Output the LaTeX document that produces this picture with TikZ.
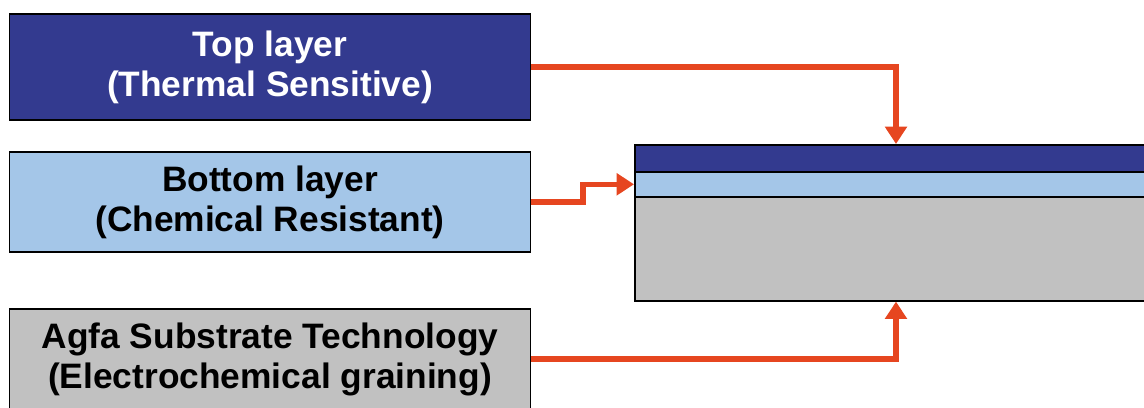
\documentclass[tikz,border=0pt]{standalone}
\usepackage{fontspec}
\setmainfont{Liberation Sans}
\usetikzlibrary{arrows.meta}
\usetikzlibrary{positioning}
\definecolor{darkband}{RGB}{51,58,143}
\definecolor{lightband}{RGB}{164,198,232}
\definecolor{greyband}{RGB}{193,193,193}
\definecolor{arrowred}{RGB}{230,70,32}

\begin{document}
\begin{tikzpicture}[x=0.75pt, y=-0.75pt]
    \tikzstyle{layerbox}=[draw=black, line width=1.2pt, minimum width=521*0.75pt, align=center,
      font=\fontsize{26.5}{30}\selectfont\bfseries, inner sep=0pt];
    \tikzstyle{band}=[draw=black, line width=1.2pt, minimum width=512*0.75pt, anchor=north west, inner sep=0pt];
    \tikzstyle{conn}=[arrowred, line width=3.8pt, -{Triangle[width=16pt, length=13pt]}];
    \clip (0,0) rectangle (1144,407);
    % the three layers
    \node[layerbox, fill=darkband, text=white, minimum height=106*0.75pt] (top) at (270,67)
      {Top layer\\(Thermal Sensitive)};
    \node[layerbox, fill=lightband, minimum height=100*0.75pt] (bottom) at (270,202)
      {Bottom layer\\(Chemical Resistant)};
    \node[layerbox, fill=greyband, minimum height=100*0.75pt] (agfa) at (270,359)
      {Agfa Substrate Technology\\(Electrochemical graining)};
    % the plate
    \node[band, fill=greyband, minimum height=104*0.75pt] (gray) at (634,196) {};
    \node[band, fill=lightband, minimum height=25*0.75pt] (light) at (634,171) {};
    \node[band, fill=darkband, minimum height=27*0.75pt] (dark) at (634,144) {};
    \coordinate (drop) at (896,0);
    \coordinate (step) at (583,0);
    % connectors
    \draw[conn] (top.east) -| (drop |- dark.north);
    \draw[conn] (bottom.east) -- (step |- bottom.east) |- (light.west);
    \draw[conn] (agfa.east) -| (drop |- gray.south);
\end{tikzpicture}
\end{document}
